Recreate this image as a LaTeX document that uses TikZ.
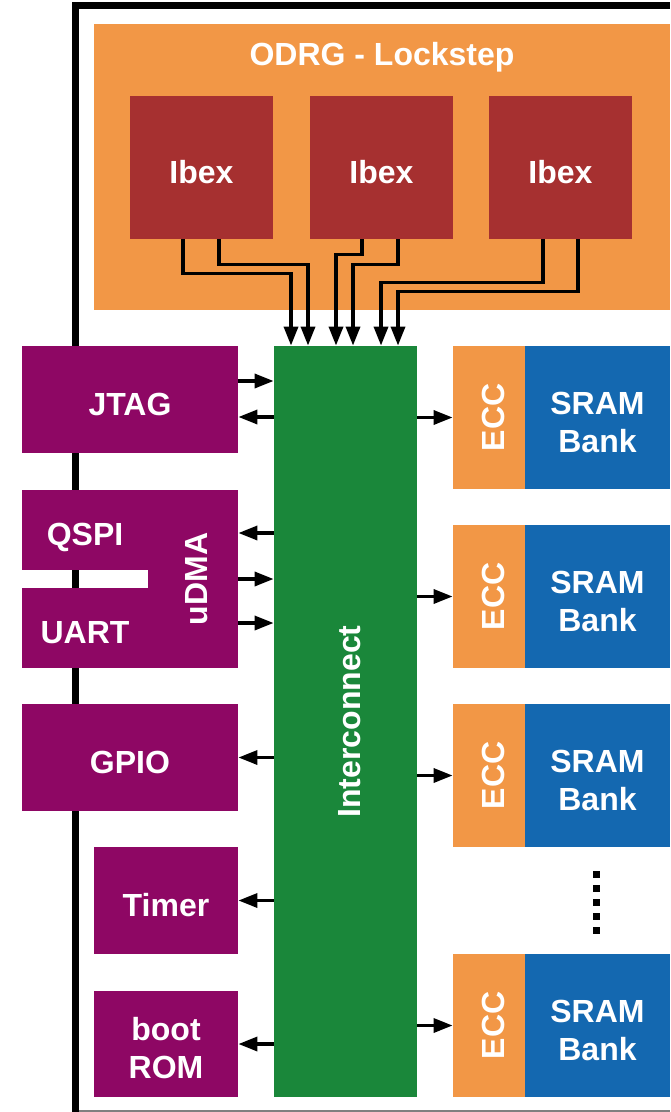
\documentclass[tikz,border=0pt]{standalone}
\usepackage{fontspec}
\setmainfont{Liberation Sans}
\usetikzlibrary{arrows.meta,positioning}
\definecolor{odrgorange}{HTML}{F29746}
\definecolor{ibexred}{HTML}{A63030}
\definecolor{periph}{HTML}{8E0764}
\definecolor{icgreen}{HTML}{1A873A}
\definecolor{sramblue}{HTML}{1468B0}
\tikzset{
  blk/.style    = {inner sep=0pt, align=center, text=white,
                   font=\fontsize{16}{19}\selectfont\bfseries},
  perblk/.style = {blk, fill=periph},
  ibexblk/.style = {blk, fill=ibexred, minimum width=71.5pt, minimum height=71.5pt},
  eccblk/.style = {blk, fill=odrgorange, minimum width=36pt, minimum height=71.5pt},
  srblk/.style  = {blk, fill=sramblue, minimum width=72.5pt, minimum height=71.5pt},
  ar/.style     = {-{Triangle[length=9.5pt,width=7pt]}, line width=1.7pt}
}
\newcommand{\tx}[1]{\raisebox{-4pt}[\height][\depth]{\begin{tabular}{@{}c@{}}#1\end{tabular}}}
\newcommand{\vt}[1]{\rotatebox{90}{\raisebox{-2pt}[\height][\depth]{#1}}}

\begin{document}
\begin{tikzpicture}[x=0.5pt, y=-0.5pt]
\useasboundingbox (0,0) rectangle (670,1112);
% ---- chip frame ----
\draw[line width=3.5pt] (75.5,1112) -- (75.5,5.5) -- (670,5.5);
\draw[black!50, line width=0.6pt] (79,1111) -- (670,1111);

% ---- lockstep cluster ----
\node[blk, fill=odrgorange, minimum width=288pt, minimum height=143pt] (odrg) at (382,167) {};
\node[blk] (odrgt) at (382,57) {ODRG - Lockstep};
\node[ibexblk] (ib1) at (201.5,167.5) {\tx{Ibex}};
\node[ibexblk] (ib2) at (381.5,167.5) {\tx{Ibex}};
\node[ibexblk] (ib3) at (560.5,167.5) {\tx{Ibex}};

% ---- interconnect ----
\node[blk, fill=icgreen, minimum width=71.5pt, minimum height=375.5pt] (ic) at (345.5,721.5)
  {\vt{Interconnect}};

% ---- peripherals ----
\node[perblk, minimum width=108pt, minimum height=53.5pt] (jtag) at (130,399.5) {\tx{JTAG}};
\node[perblk, minimum width=63pt, minimum height=40pt] (qspi) at (85,529.5) {\tx{QSPI}};
\node[perblk, minimum width=63pt, minimum height=40pt] (uart) at (85,628) {\tx{UART}};
\node[perblk, minimum width=45pt, minimum height=89pt] (udma) at (193,579) {\vt{uDMA}};
\node[perblk, minimum width=108pt, minimum height=53.5pt] (gpio) at (130,757.5) {\tx{GPIO}};
\node[perblk, minimum width=72pt, minimum height=53.5pt] (timer) at (166,900.5) {\tx{Timer}};
\node[perblk, minimum width=72pt, minimum height=53pt] (brom) at (166,1044) {\tx{boot\\ROM}};

% ---- memory banks ----
\node[eccblk] (ecc1) at (489,417.5) {\vt{ECC}};
\node[srblk]  (sr1)  at (597.5,417.5) {\tx{SRAM\\Bank}};
\node[eccblk] (ecc2) at (489,596.5) {\vt{ECC}};
\node[srblk]  (sr2)  at (597.5,596.5) {\tx{SRAM\\Bank}};
\node[eccblk] (ecc3) at (489,775.5) {\vt{ECC}};
\node[srblk]  (sr3)  at (597.5,775.5) {\tx{SRAM\\Bank}};
\node[eccblk] (ecc4) at (489,1025.5) {\vt{ECC}};
\node[srblk]  (sr4)  at (597.5,1025.5) {\tx{SRAM\\Bank}};
\foreach \k in {0,...,4}
  \fill (593,871+14*\k) rectangle ++(7,7);

% ---- core ports into the interconnect ----
\draw[ar] ([shift={(-18.5,0)}]ib1.south) -- ++(0,34) -| ([shift={(-54.5,0)}]ic.north);
\draw[ar] ([shift={(17.5,0)}]ib1.south) -- ++(0,25) -| ([shift={(-37.5,0)}]ic.north);
\draw[ar] ([shift={(-19.5,0)}]ib2.south) -- ++(0,15) -| ([shift={(-9.5,0)}]ic.north);
\draw[ar] ([shift={(16.5,0)}]ib2.south) -- ++(0,25) -| ([shift={(7.5,0)}]ic.north);
\draw[ar] ([shift={(-17.5,0)}]ib3.south) -- ++(0,43) -| ([shift={(35.5,0)}]ic.north);
\draw[ar] ([shift={(17.5,0)}]ib3.south) -- ++(0,52) -| ([shift={(52.5,0)}]ic.north);

% ---- peripheral links ----
\draw[ar] ([shift={(0,-18.5)}]jtag.east) -- ([shift={(0,-18.5)}]jtag.east -| ic.west);
\draw[ar] ([shift={(0,17.5)}]jtag.east -| ic.west) -- ([shift={(0,17.5)}]jtag.east);
\draw[ar] ([shift={(0,-46)}]udma.east -| ic.west) -- ([shift={(0,-46)}]udma.east);
\draw[ar] (udma.east) -- (udma.east -| ic.west);
\draw[ar] ([shift={(0,44)}]udma.east) -- ([shift={(0,44)}]udma.east -| ic.west);
\draw[ar] (ic.west |- gpio.east) -- (gpio.east);
\draw[ar] (ic.west |- timer.east) -- (timer.east);
\draw[ar] (ic.west |- brom.east) -- (brom.east);

% ---- memory links ----
\draw[ar] (ic.east |- ecc1.west) -- (ecc1.west);
\draw[ar] (ic.east |- ecc2.west) -- (ecc2.west);
\draw[ar] (ic.east |- ecc3.west) -- (ecc3.west);
\draw[ar] (ic.east |- ecc4.west) -- (ecc4.west);
\end{tikzpicture}
\end{document}
